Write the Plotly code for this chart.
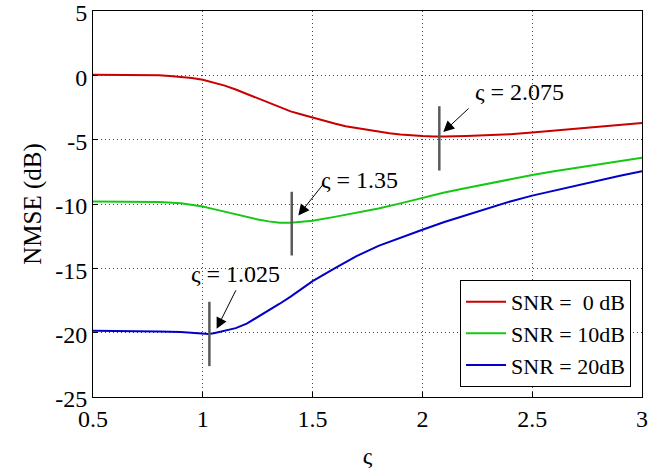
import plotly.graph_objects as go

# ---- data ----
x_red = [0.5, 0.6, 0.7, 0.8, 0.85, 0.9, 0.95, 1.0, 1.05, 1.1, 1.15, 1.2, 1.25, 1.3, 1.35, 1.4, 1.45,
         1.5, 1.55, 1.6, 1.65, 1.7, 1.75, 1.8, 1.85, 1.9, 1.95, 2.0, 2.05, 2.075, 2.1, 2.2, 2.3,
         2.4, 2.5, 2.6, 2.7, 2.8, 2.9, 3.0]
snr0 = [0.05, 0.05, 0.05, 0.0, -0.05, -0.1, -0.2, -0.35, -0.55, -0.8, -1.1, -1.45, -1.8, -2.15, -2.5,
        -2.8, -3.05, -3.3, -3.55, -3.75, -3.95, -4.1, -4.25, -4.4, -4.5, -4.6, -4.68, -4.72, -4.76,
        -4.77, -4.76, -4.72, -4.65, -4.58, -4.45, -4.3, -4.1, -3.95, -3.85, -3.7]

x_green = [0.5, 0.6, 0.7, 0.8, 0.9, 0.95, 1.0, 1.05, 1.1, 1.15, 1.2, 1.25, 1.3, 1.35, 1.4, 1.45, 1.5,
           1.6, 1.7, 1.8, 1.9, 2.0, 2.1, 2.2, 2.3, 2.4, 2.5, 2.6, 2.7, 2.8, 2.9, 3.0]
snr10 = [-9.8, -9.8, -9.82, -9.85, -9.95, -10.05, -10.2, -10.4, -10.6, -10.85, -11.05, -11.2, -11.35,
         -11.45, -11.45, -11.4, -11.3, -11.0, -10.7, -10.35, -9.95, -9.5, -9.1, -8.75, -8.4, -8.05,
         -7.75, -7.45, -7.2, -6.95, -6.7, -6.4]

x_blue = [0.5, 0.6, 0.7, 0.8, 0.9, 1.0, 1.025, 1.05, 1.1, 1.15, 1.2, 1.25, 1.3, 1.35, 1.4, 1.45, 1.5,
          1.6, 1.7, 1.8, 1.9, 2.0, 2.1, 2.2, 2.3, 2.4, 2.5, 2.6, 2.7, 2.8, 2.9, 3.0]
snr20 = [-19.85, -19.85, -19.85, -19.9, -19.95, -20.05, -20.1, -20.05, -19.85, -19.65, -19.3, -18.8,
         -18.3, -17.75, -17.2, -16.6, -16.0, -15.0, -14.05, -13.25, -12.6, -12.0, -11.4, -10.85,
         -10.3, -9.8, -9.35, -8.95, -8.55, -8.15, -7.8, -7.45]

series_names = ["SNR =\u00a0\u00a00 dB", "SNR = 10dB", "SNR = 20dB"]
series_colors = ["#c80000", "#14c814", "#0000c8"]

# optimum markers (vertical bars)
marker_x = [1.03, 1.405, 2.077]
marker_y_top = [-17.6, -9.05, -2.4]
marker_y_bot = [-22.6, -14.0, -7.4]

# annotation labels
label_text = ["\u03c2 = 1.025", "\u03c2 = 1.35", "\u03c2 = 2.075"]
label_x = [1.149, 1.715, 2.44]
label_y = [-15.44, -8.1, -1.3]
arrow_head_x = [1.063, 1.435, 2.095]
arrow_head_y = [-19.7, -10.89, -4.41]
arrow_tail_x = [1.154, 1.556, 2.217]
arrow_tail_y = [-16.59, -8.3, -2.47]

x_ticks = [0.5, 1, 1.5, 2, 2.5, 3]
x_ticklabels = ["0.5", "1", "1.5", "2", "2.5", "3"]
y_ticks = [5, 0, -5, -10, -15, -20, -25]
y_ticklabels = ["5", "0", "-5", "-10", "-15", "-20", "-25"]

FONT = "Liberation Serif, Times New Roman, serif"

fig = go.Figure()
for xs, ys, name, col in zip([x_red, x_green, x_blue], [snr0, snr10, snr20], series_names, series_colors):
    fig.add_trace(go.Scatter(x=xs, y=ys, mode="lines", name=name,
                             line=dict(color=col, width=2)))

for mx, yt, yb in zip(marker_x, marker_y_top, marker_y_bot):
    fig.add_trace(go.Scatter(x=[mx, mx], y=[yt, yb], mode="lines", showlegend=False,
                             line=dict(color="#5a5a5a", width=2.5), hoverinfo="skip"))

for t, lx, ly in zip(label_text, label_x, label_y):
    fig.add_annotation(x=lx, y=ly, text=t, showarrow=False, xref="x", yref="y",
                       font=dict(family=FONT, size=24, color="black"))

for hx, hy, tx, ty in zip(arrow_head_x, arrow_head_y, arrow_tail_x, arrow_tail_y):
    fig.add_annotation(x=hx, y=hy, ax=tx, ay=ty, xref="x", yref="y", axref="x", ayref="y",
                       text="", showarrow=True, arrowhead=2, arrowsize=2.2, arrowwidth=1,
                       arrowcolor="black", standoff=0, startstandoff=0)

axis_common = dict(showline=True, linecolor="black", linewidth=1, mirror=True,
                   ticks="inside", ticklen=5, tickcolor="black",
                   showgrid=True, gridcolor="#444444", griddash="1px,3px", gridwidth=1,
                   zeroline=False, ticklabeloverflow="allow",
                   tickfont=dict(family=FONT, size=24, color="black"))

fig.update_xaxes(range=[0.5, 3], tickvals=x_ticks, ticktext=x_ticklabels,
                 title=dict(text="\u03c2", font=dict(family=FONT, size=24, color="black"), standoff=16),
                 **axis_common)
fig.update_yaxes(range=[-25, 5], tickvals=y_ticks, ticktext=y_ticklabels, ticklabelshift=2,
                 title=dict(text="NMSE (dB)", font=dict(family=FONT, size=25, color="black"), standoff=6),
                 **axis_common)

fig.update_layout(
    width=672, height=475,
    margin=dict(l=93, r=30, t=11, b=78, autoexpand=False),
    plot_bgcolor="white", paper_bgcolor="white",
    font=dict(family=FONT, size=24, color="black"),
    legend=dict(x=0.98, y=0.026, xanchor="right", yanchor="bottom",
                bgcolor="white", bordercolor="black", borderwidth=1,
                font=dict(family=FONT, size=22, color="black"),
                tracegroupgap=0, itemwidth=40),
    showlegend=True,
)

fig.write_html("out.html", config={"displayModeBar": False},
               post_script="document.body.style.margin='0';document.body.style.overflow='hidden';")
